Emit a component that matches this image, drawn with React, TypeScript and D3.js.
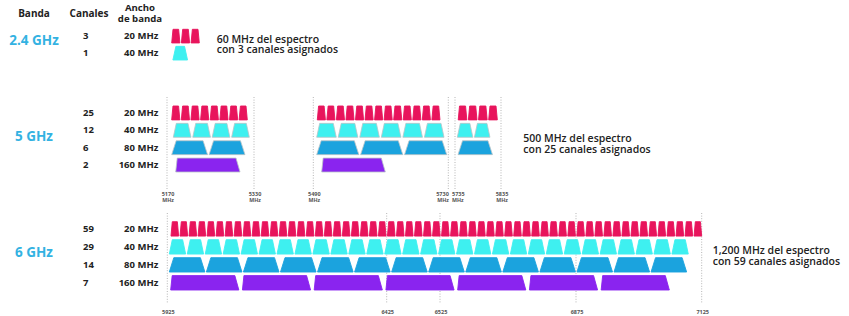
import React from "react";
import * as d3 from "d3";

// datos
const bands = ["2.4 GHz", "5 GHz", "6 GHz"];
const bandwidths = ["20 MHz", "40 MHz", "80 MHz", "160 MHz"];
const channels24 = [3, 1];
const channels5 = [25, 12, 6, 2];
const channels6 = [59, 29, 14, 7];

// [desde MHz, hasta MHz, canales] per bandwidth row
const blocks24 = [
  [[2400, 2460, 3]],
  [[2401, 2436, 1]],
];
const blocks5 = [
  [[5178.6, 5317.7, 8], [5497.1, 5715.2, 13], [5742, 5827, 4]],
  [[5181.6, 5321.4, 4], [5496, 5722.4, 6], [5740, 5811, 2]],
  [[5178.6, 5313.4, 2], [5496, 5727.2, 3], [5740, 5818, 1]],
  [[5182.9, 5307.4, 1], [5501.9, 5621, 1]],
];
const blocks6 = [
  [[5933.4, 7125, 59]],
  [[5929.6, 7098.3, 29]],
  [[5929.6, 7095, 14]],
  [[5932.7, 7060.6, 7]],
];

const ticks5 = [5170, 5330, 5490, 5730, 5735, 5835];
const ticks6 = [5925, 6425, 6525, 6875, 7125];

const notes24 = ["60 MHz del espectro", "con 3 canales asignados"];
const notes5 = ["500 MHz del espectro", "con 25 canales asignados"];
const notes6 = ["1,200 MHz del espectro", "con 59 canales asignados"];

// estilos
const colors = ["#e8145c", "#3ef0f0", "#1ba3de", "#8a24ef"];
const pads = [0.15, 0.09, 0.04, 0.05];
const insets = [[1.3, 1.3], [3, 3], [4.5, 4.5], [1.5, 4]];
const font = "'Open Sans', sans-serif";
const dark = "#222";
const accent = "#33b2e2";

const layout = [
  {
    label: bands[0], counts: channels24, blocks: blocks24, notes: notes24,
    x: d3.scaleLinear().domain([2400, 2460]).range([171.7, 199.3]),
    rows: [29.3, 60], labelY: 45, noteX: 216.7, noteY: 42.7,
    ticks: [] as number[], tickLine: [0, 0], tickY: 0, unit: false, outline: false,
  },
  {
    label: bands[1], counts: channels5, blocks: blocks5, notes: notes5,
    x: d3.scaleLinear().domain(ticks5).range([167, 254, 313.3, 448.3, 455, 501]),
    rows: [106, 172], labelY: 140.5, noteX: 523.3, noteY: 142.3,
    ticks: ticks5, tickLine: [97, 189], tickY: 195.5, unit: true, outline: true,
  },
  {
    label: bands[2], counts: channels6, blocks: blocks6, notes: notes6,
    x: d3.scaleLinear().domain(ticks6).range([167.3, 386.7, 440, 576, 701.7]),
    rows: [221.7, 290], labelY: 257.3, noteX: 712.7, noteY: 254.3,
    ticks: ticks6, tickLine: [213, 304], tickY: 314.3, unit: false, outline: false,
  },
];

function trapezoid(x0: number, x1: number, y0: number, y1: number, l: number, r: number) {
  const p = d3.path();
  p.moveTo(x0, y1);
  p.lineTo(x0 + l, y0);
  p.lineTo(x1 - r, y0);
  p.lineTo(x1, y1);
  p.closePath();
  return p.toString();
}

export default function App() {
  return (
    <svg
      width={849}
      height={316}
      style={{ position: "absolute", left: 0, top: 0, background: "#fff" }}
      fontFamily={font}
    >
      <g fontWeight={700} fontSize={10} fill={dark} textAnchor="middle">
        <text x={34} y={17.3}>Banda</text>
        <text x={89} y={17.3}>Canales</text>
        <text x={140} y={10.5} fontSize={9.6}>Ancho</text>
        <text x={140} y={22} fontSize={9.6}>de banda</text>
      </g>

      {layout.map((b, bi) => {
        const y = d3.scaleBand<number>().domain(d3.range(b.counts.length)).range(b.rows as [number, number]).paddingInner(0.2);
        const bh = y.bandwidth();
        return (
          <g key={bi}>
            {b.ticks.map((t, ti) => {
              const px = b.x(t);
              const prev = b.ticks[ti - 1];
              const next = b.ticks[ti + 1];
              const anchor = next !== undefined && next - t < 20 ? "end" : prev !== undefined && t - prev < 20 ? "start" : "middle";
              const tx = anchor === "end" ? px + 0.5 : anchor === "start" ? px - 3 : px + 1;
              return (
                <g key={t}>
                  <line x1={px} x2={px} y1={b.tickLine[0]} y2={b.tickLine[1]} stroke="#b5b5b5" strokeWidth={1} strokeDasharray="1 1.6" />
                  <text x={tx} y={b.tickY} fontSize={5.5} fontWeight={700} fill="#555" textAnchor={anchor}>{t}</text>
                  {b.unit && (
                    <text x={tx} y={b.tickY + 6.4} fontSize={5.3} fontWeight={700} fill="#555" textAnchor={anchor}>MHz</text>
                  )}
                </g>
              );
            })}

            <text x={34} y={b.labelY} fontSize={13.5} fontWeight={700} fill={accent} textAnchor="middle">{b.label}</text>

            {b.counts.map((c, i) => {
              const cy = (y(i) as number) + bh / 2 + 3;
              return (
                <g key={i} fontSize={9.5} fontWeight={700} fill={dark}>
                  <text x={83} y={cy}>{c}</text>
                  <text x={158.3} y={cy} textAnchor="end">{bandwidths[i]}</text>
                </g>
              );
            })}

            {b.blocks.map((row, i) => {
              const y0 = y(i) as number;
              const y1 = y0 + bh;
              return row.map(([from, to, n], k) => {
                const xb = d3.scaleBand<number>().domain(d3.range(n)).range([b.x(from), b.x(to)]).paddingInner(pads[i]);
                return d3.range(n).map((j) => {
                  const x0 = xb(j) as number;
                  const x1 = x0 + xb.bandwidth();
                  const outlined = b.outline && i > 0;
                  return (
                    <path
                      key={`${i}-${k}-${j}`}
                      d={trapezoid(x0, x1, y0, y1, insets[i][0], insets[i][1])}
                      fill={colors[i]}
                      stroke={outlined ? "#b9c4c8" : colors[i]}
                      strokeWidth={outlined ? 0.8 : 0.9}
                      strokeLinejoin="round"
                    />
                  );
                });
              });
            })}

            <g fontSize={10.5} fontWeight={600} fill={dark}>
              <text x={b.noteX} y={b.noteY}>{b.notes[0]}</text>
              <text x={b.noteX} y={b.noteY + 10.5}>{b.notes[1]}</text>
            </g>
          </g>
        );
      })}
    </svg>
  );
}
